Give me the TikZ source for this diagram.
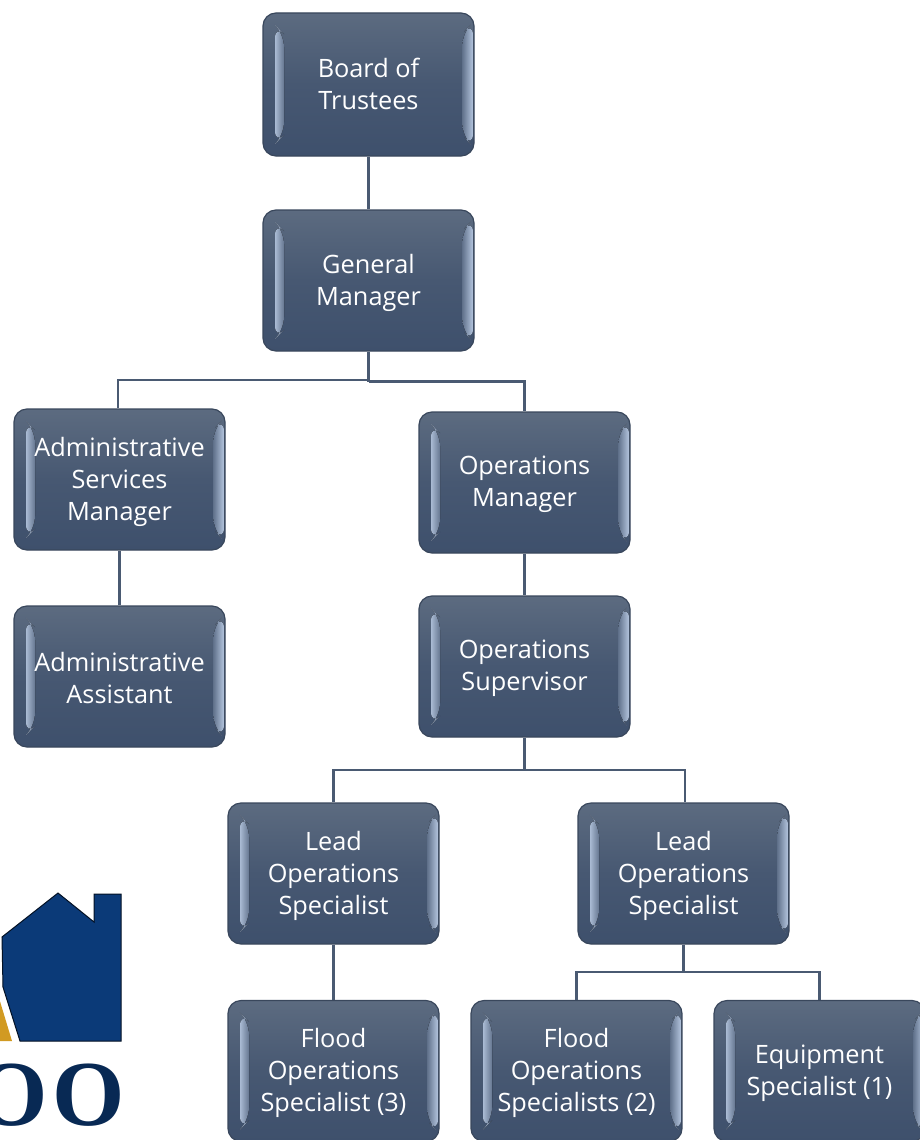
\documentclass[tikz,border=0pt]{standalone}
\usepackage{fontspec}
\setmainfont{Open Sans}
\newfontfamily\logofont{Liberation Serif}
\usetikzlibrary{calc}
\definecolor{boxtop}{HTML}{5C6B80}
\definecolor{boxmid}{HTML}{475872}
\definecolor{boxbot}{HTML}{3E506C}
\definecolor{boxedge}{HTML}{39475C}
\definecolor{bevel}{HTML}{B4C5DE}
\definecolor{link}{HTML}{4A5A72}
\definecolor{logoblue}{HTML}{0B3A78}
\definecolor{logogold}{HTML}{D19A22}
\tikzset{
  orgbox/.style={rectangle,rounded corners=13pt,minimum width=211pt,minimum height=#1,
    inner sep=0pt,draw=boxedge,line width=1.2pt,top color=boxtop,bottom color=boxbot,middle color=boxmid,
    path picture={
      \coordinate (sw) at (path picture bounding box.south west);
      \coordinate (ne) at (path picture bounding box.north east);
      \fill[left color=bevel!90!boxmid,right color=boxmid!72!bevel]
        ($(sw)+(12pt,12pt)$) -- ($(sw)+(21pt,21pt)$) -- ($(sw|-ne)+(21pt,-21pt)$) -- ($(sw|-ne)+(12pt,-12pt)$) -- cycle;
      \fill[left color=boxmid!78!bevel,right color=bevel]
        ($(ne|-sw)+(-1pt,9pt)$) -- ($(ne|-sw)+(-12pt,21pt)$) -- ($(ne)+(-12pt,-21pt)$) -- ($(ne)+(-1pt,-9pt)$) -- cycle;
    }},
  orgbox/.default=141pt,
  orgtext/.style={text=white,align=center,inner sep=0pt,yshift=-2pt,font=\fontsize{25.3pt}{32pt}\selectfont},
  orglink/.style={draw=link,line width=2.4pt},
  logotext/.style={text=logoblue!70!black,font=\logofont\bfseries\fontsize{93pt}{93pt}\selectfont,inner sep=0pt}
}
\begin{document}
\begin{tikzpicture}[x=1pt,y=-1pt]
\useasboundingbox (0,0) rectangle (920,1140);
\clip (0,0) rectangle (920,1140);
% logo
\fill[logoblue,draw=black!70!logoblue,line width=1pt,line join=miter]
  (2,937) -- (58,893) -- (94,922) -- (94,894) -- (121,894) -- (121,1041) -- (20,1041) -- (3,987) -- cycle;
\fill[logogold] (-1,998) -- (12,1041) -- (-1,1041) -- cycle;
\node[logotext] (logoa) at (12,1095) {O};
\node[logotext] (logob) at (89,1095) {O};
% boxes
\node[orgbox=143pt,label={[orgtext,yshift=3pt]center:{Board of\\Trustees}}] (board) at (368.5,84.5) {};
\node[orgbox,label={[orgtext]center:{General\\Manager}}] (gm) at (368.5,280.5) {};
\node[orgbox,label={[orgtext]center:{Administrative\\Services\\Manager}}] (adm) at (119.5,479.5) {};
\node[orgbox,label={[orgtext]center:{Operations\\Manager}}] (opm) at (524.5,482.5) {};
\node[orgbox,label={[orgtext]center:{Administrative\\Assistant}}] (asst) at (119.5,676.5) {};
\node[orgbox,label={[orgtext]center:{Operations\\Supervisor}}] (sup) at (524.5,666.5) {};
\node[orgbox,label={[orgtext]center:{Lead\\Operations\\Specialist}}] (leada) at (333.5,873.5) {};
\node[orgbox,label={[orgtext]center:{Lead\\Operations\\Specialist}}] (leadb) at (683.5,873.5) {};
\node[orgbox,label={[orgtext]center:{Flood\\Operations\\Specialist (3)}}] (flooda) at (333.5,1071) {};
\node[orgbox,label={[orgtext]center:{Flood\\Operations\\Specialists (2)}}] (floodb) at (576.5,1071) {};
\node[orgbox,label={[orgtext]center:{Equipment\\Specialist (1)}}] (equip) at (819.5,1071) {};
% connectors
\coordinate (ja) at (368.5,380);
\coordinate (jb) at (368.5,381.5);
\coordinate (jc) at (524.5,770);
\coordinate (jd) at (683.5,972);
\draw[orglink] (board) -- (gm);
\draw[orglink] (gm.south) -- (jb);
\draw[orglink] (ja) -| ($(adm.north)+(-1.5,0)$);
\draw[orglink] (jb) -| (opm.north);
\draw[orglink] (asst) -- (adm);
\draw[orglink] (opm) -- (sup);
\draw[orglink] (sup.south) -- (jc);
\draw[orglink] (jc) -| (leada.north);
\draw[orglink] (jc) -| ($(leadb.north)+(1.5,0)$);
\draw[orglink] (leada) -- (flooda);
\draw[orglink] (leadb.south) -- (jd);
\draw[orglink] (jd) -| (floodb.north);
\draw[orglink] (jd) -| (equip.north);
\end{tikzpicture}
\end{document}
